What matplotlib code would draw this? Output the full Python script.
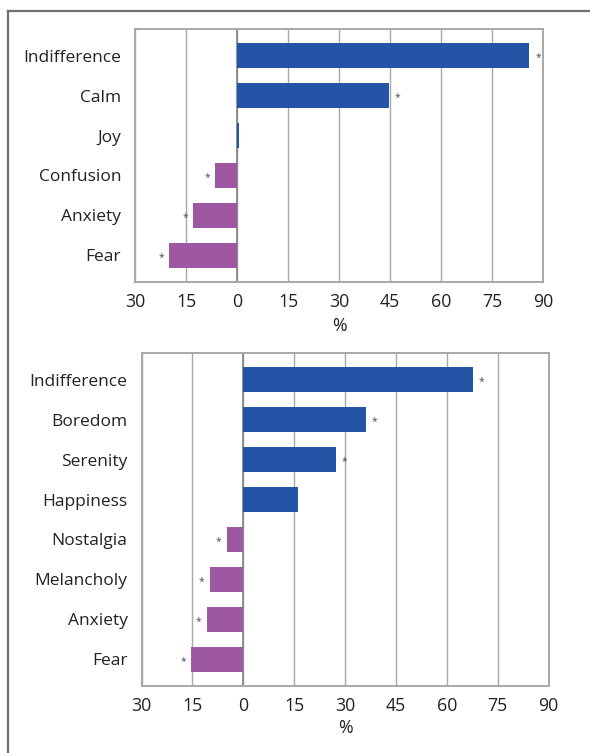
import matplotlib
matplotlib.use("Agg")
import matplotlib.pyplot as plt
from matplotlib.lines import Line2D

plt.rcParams['font.family'] = ['Open Sans', 'DejaVu Sans']

# Top panel data
cats_top = ["Indifference", "Calm", "Joy", "Confusion", "Anxiety", "Fear"]
vals_top = [86, 44.6, 0.6, -6.5, -13, -20]
sig_top = [True, True, False, True, True, True]

# Bottom panel data
cats_bot = ["Indifference", "Boredom", "Serenity", "Happiness",
            "Nostalgia", "Melancholy", "Anxiety", "Fear"]
vals_bot = [67.6, 36.1, 27.2, 16, -4.9, -9.9, -10.8, -15.4]
sig_bot = [True, True, True, False, True, True, True, True]

xticks = [-30, -15, 0, 15, 30, 45, 60, 75, 90]
xtick_labels = ["30", "15", "0", "15", "30", "45", "60", "75", "90"]

BLUE = "#2354a5"
PURPLE = "#9d57a3"
GRID = "#a8a8a8"

W, H = 590, 753
fig = plt.figure(figsize=(W / 100, H / 100), dpi=100)


def px_axes(left, top, right, bottom):
    return fig.add_axes([left / W, 1 - bottom / H, (right - left) / W, (bottom - top) / H])


def draw(ax, cats, vals, sig, labelpad):
    n = len(cats)
    ys = list(range(n))
    colors = [BLUE if v >= 0 else PURPLE for v in vals]
    ax.barh(ys, vals, height=0.62, color=colors, zorder=3)
    for y, v, s in zip(ys, vals, sig):
        if not s:
            continue
        off = 2.6 if v >= 0 else -2.3
        ax.text(v + off, y + 0.05, "*", ha="center", va="center",
                fontsize=7.5, color="#4a4a4a", zorder=4)
    ax.set_xlim(-30, 90)
    ax.set_ylim(n - 1 + 0.67, -0.67)
    ax.set_yticks(ys)
    ax.set_yticklabels(cats, fontsize=12.5, color="#222222")
    ax.set_xticks(xticks)
    ax.set_xticklabels(xtick_labels, fontsize=12.8, color="#222222")
    ax.tick_params(length=0, pad=8)
    ax.tick_params(axis="y", pad=10)
    ax.xaxis.grid(True, color=GRID, linewidth=1.0, zorder=0)
    ax.axvline(0, color="#8a8a8a", linewidth=1.3, zorder=2)
    for sp in ax.spines.values():
        sp.set_color(GRID)
        sp.set_linewidth(1.4)
    ax.set_xlabel("%", fontsize=12.8, color="#222222", labelpad=labelpad)


ax1 = px_axes(135, 29, 543, 282)
draw(ax1, cats_top, vals_top, sig_top, 4)

ax2 = px_axes(141.5, 353, 548.5, 686)
draw(ax2, cats_bot, vals_bot, sig_bot, 3)

# outer frame (top and left)
fig.add_artist(Line2D([8 / W, 1.0], [1 - 11 / H, 1 - 11 / H], transform=fig.transFigure,
                      color="#6e6e6e", linewidth=1.6))
fig.add_artist(Line2D([8 / W, 8 / W], [1 - 11 / H, 0.0], transform=fig.transFigure,
                      color="#6e6e6e", linewidth=1.6))

fig.savefig("out.png", dpi=100)
